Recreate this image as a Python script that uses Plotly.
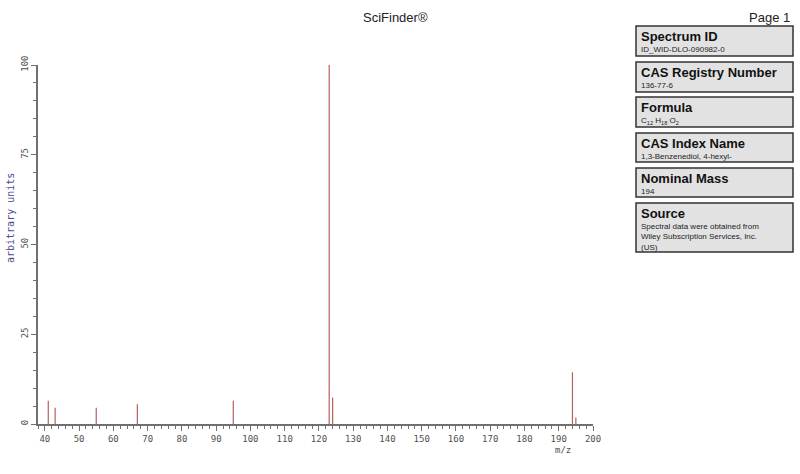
import plotly.graph_objects as go

# ---- data ----
mz = [41, 43, 55, 67, 95, 123, 124, 194, 195]
intensity = [6.5, 4.5, 4.5, 5.5, 6.5, 100, 7.4, 14.4, 1.8]
x_ticks = [40, 50, 60, 70, 80, 90, 100, 110, 120, 130, 140, 150, 160, 170, 180, 190, 200]
y_ticks = [0, 25, 50, 75, 100]

info_titles = ["Spectrum ID", "CAS Registry Number", "Formula", "CAS Index Name", "Nominal Mass", "Source"]
info_values = [
    "ID_WID-DLO-090982-0",
    "136-77-6",
    "C<sub>12</sub> H<sub>18</sub> O<sub>2</sub>",
    "1,3-Benzenediol, 4-hexyl-",
    "194",
    "Spectral data were obtained from<br>Wiley Subscription Services, Inc.<br>(US)",
]

W, H = 800, 474
L, R, T, B = 38, 207, 65, 50
pw, ph = W - L - R, H - T - B


def px(x):
    return (x - L) / pw


def py(y):
    return 1 - (y - T) / ph


xs, ys = [], []
for m, v in zip(mz, intensity):
    xs += [m, m, None]
    ys += [0, v, None]

fig = go.Figure()
fig.add_trace(go.Scatter(x=xs, y=ys, mode="lines",
                         line=dict(color="#b85e5e", width=1.2),
                         hoverinfo="skip", showlegend=False))

mono = "DejaVu Sans Mono"
fig.update_layout(
    width=W, height=H,
    margin=dict(l=L, r=R, t=T, b=B),
    paper_bgcolor="white", plot_bgcolor="white",
    showlegend=False,
    xaxis=dict(range=[38, 200], tickvals=x_ticks, showgrid=False, zeroline=False,
               showline=True, linecolor="#707070", linewidth=1.5,
               ticks="outside", ticklen=5, tickcolor="#707070",
               minor=dict(dtick=2, tick0=0, ticks="outside", ticklen=3, tickcolor="#707070"),
               tickfont=dict(family=mono, size=9, color="#505050")),
    yaxis=dict(range=[0, 100], tickvals=y_ticks, showgrid=False, zeroline=False,
               showline=True, linecolor="#707070", linewidth=1.5,
               ticks="outside", ticklen=5, tickcolor="#707070", tickangle=-90,
               minor=dict(dtick=5, tick0=0, ticks="outside", ticklen=3, tickcolor="#707070"),
               tickfont=dict(family=mono, size=9, color="#505050")),
)

annotations = [
    dict(text="SciFinder®", x=px(395), y=py(17), xref="paper", yref="paper",
         xanchor="center", yanchor="middle",
         showarrow=False, font=dict(family="Liberation Sans", size=13, color="#222")),
    dict(text="Page 1", x=px(792), y=py(17), xref="paper", yref="paper",
         xanchor="right", yanchor="middle",
         showarrow=False, font=dict(family="Liberation Sans", size=13, color="#222")),
    dict(text="arbitrary units", x=px(10), y=py(218), xref="paper", yref="paper",
         xanchor="center", yanchor="middle",
         textangle=-90, showarrow=False, font=dict(family=mono, size=10, color="#4a4a90")),
    dict(text="m/z", x=px(563), y=py(450), xref="paper", yref="paper",
         xanchor="center", yanchor="middle",
         showarrow=False, font=dict(family=mono, size=9, color="#505050")),
]

boxes = [(26, 56), (62, 92), (97, 127), (133, 162), (168, 197), (203, 252)]
shapes = []
for (top, bot), ttl, val in zip(boxes, info_titles, info_values):
    shapes.append(dict(type="rect", xref="paper", yref="paper",
                       x0=px(636), x1=px(793), y0=py(bot), y1=py(top),
                       fillcolor="#e2e2e2", line=dict(color="#333", width=1.5), layer="below"))
    annotations.append(dict(text="<b>" + ttl + "</b>", x=px(639), y=py(top + 1),
                            xref="paper", yref="paper", xanchor="left", yanchor="top",
                            showarrow=False, font=dict(family="Liberation Sans", size=13, color="#111")))
    annotations.append(dict(text=val, x=px(639), y=py(top + 17),
                            xref="paper", yref="paper", xanchor="left", yanchor="top", align="left",
                            showarrow=False, font=dict(family="Liberation Sans", size=8, color="#222")))

fig.update_layout(annotations=annotations, shapes=shapes)
fig.write_html("out.html", config={"displayModeBar": False},
               post_script="document.body.style.margin='0';")
